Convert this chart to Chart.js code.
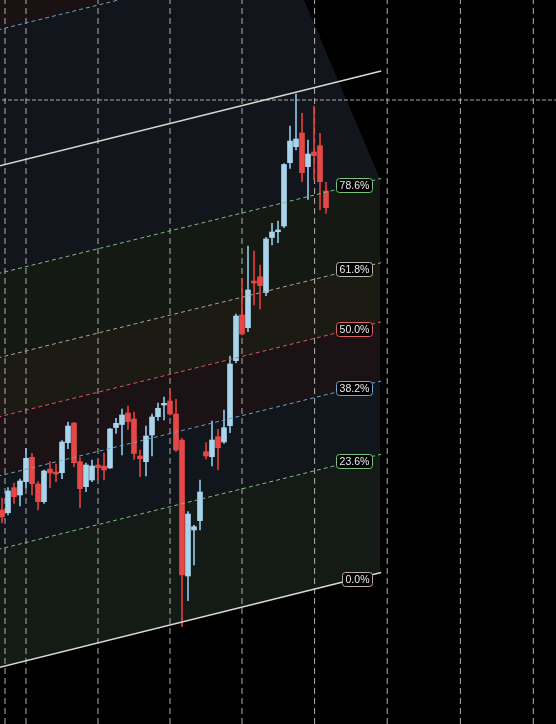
<!DOCTYPE html>
<html>
<head>
<meta charset="utf-8">
<script src="https://cdn.jsdelivr.net/npm/chart.js@4/dist/chart.umd.min.js"></script>
<style>
html,body{margin:0;padding:0;background:#000;}
#wrap{width:556px;height:724px;position:relative;}
</style>
</head>
<body>
<div id="wrap"><canvas id="c"></canvas></div>
<script>
// ---- candle data (bar index, OHLC in price units) ----
const candleX = Array.from({length: 55}, (_, k) => k);
const opens  = [214, 211.3, 236.3, 229, 242.3, 266.7, 240, 222.3, 255, 252, 251.3, 281.3, 301, 262.3, 237.3, 244, 259, 258, 256, 296.5, 299.5, 311, 305, 268, 262.3, 289, 307.3, 319, 323, 310, 284, 148, 194, 203.3, 272.3, 267.3, 287.3, 282, 298.3, 363.3, 409, 396.3, 443, 447.3, 431.5, 486.5, 492.3, 498, 561.3, 577.3, 591, 557.3, 572, 578.3, 533];
const highs  = [226, 236.3, 241, 245, 275.7, 270.7, 242.3, 254, 262.3, 260, 283.3, 302, 301.3, 266.3, 261, 264, 264.7, 271, 295.7, 305.7, 315, 318, 312, 274, 298, 310, 321, 327, 334, 324.7, 285.7, 212.3, 198.7, 244, 281.3, 303, 294.7, 314, 368, 410, 445.7, 478, 473, 459, 486.7, 500.7, 503, 560.5, 598, 630, 610.7, 584, 618, 590.7, 542];
const lows   = [201, 209, 220.7, 218, 236, 229, 214, 220.7, 236.3, 242.3, 245.3, 275.3, 257.3, 216.3, 232.3, 242.3, 244, 244, 255.7, 290.7, 269, 294.5, 264.7, 247.3, 248, 268, 303.5, 304, 309, 272.3, 97.3, 123.3, 159, 194, 265, 258, 254, 280.7, 291.3, 361, 389, 392.3, 419, 415, 428.3, 479, 481.3, 496.3, 555.5, 574, 542.3, 524.7, 544, 514, 510.7];
const closes = [207, 233, 227.3, 243, 265.7, 240.3, 222.3, 253, 251, 250, 282, 298, 261.3, 235.3, 259, 258, 256.3, 254, 295, 300.7, 309, 302.3, 270.5, 265.3, 288, 307, 315.7, 320.7, 310, 274, 149, 210, 197.3, 232, 268, 284, 276.3, 296.3, 360, 408, 390, 434, 441, 438.3, 485, 492, 494, 559.5, 583, 585, 551.3, 570, 568.3, 542.3, 516.3];

// ---- time grid ticks (bar index) ----
const gridTicks = [4, 16, 28, 40, 52.1, 64.2, 76.4, 88.55];

// ---- crosshair ----
const crossX = 0.5;
const crossY = 624;

// ---- Fibonacci channel ----
const chanBaseStart = [-3, 52.7];   // 0% line start (bar, price)
const chanBaseEnd   = [63, 151.1];  // 0% line end
const chanHeight    = 501.5;        // 0% -> 100%
const chanLineEnd   = 63.2;
const clipEdge      = [[63, 545.3], [50.33, 724]]; // slanted right edge of upper fills
const fibLevels   = [0, 0.236, 0.382, 0.5, 0.618, 0.786, 1, 1.272, 1.618];
const fibLabels   = ['0.0%', '23.6%', '38.2%', '50.0%', '61.8%', '78.6%', null, null, null];
const fibLineColors = ['#d6ddd0', '#7cbf7c', '#6f9fc2', '#dc5a5a', '#aaa894', '#7cbf7c', '#d6ddd0', '#6aa2cc', null];
const fibLabelBorders = ['#bda9a6', '#7cc47c', '#6aa8d8', '#dd6262', '#b8b8aa', '#7cc47c'];
const fibBandFills = ['#141a15', '#11151c', '#1a1214', '#1b1a13', '#141914', '#12151b', '#12161c', '#191112'];
const labelRightX = 61.67;

const slope = (chanBaseEnd[1] - chanBaseStart[1]) / (chanBaseEnd[0] - chanBaseStart[0]);
function levelAt(L, i) { return chanBaseStart[1] + (i - chanBaseStart[0]) * slope + L * chanHeight; }
function rightPoint(L) {
  if (L <= 0.786) return {x: chanBaseEnd[0], y: levelAt(L, chanBaseEnd[0])};
  const [ex0, ev0] = clipEdge[0], [ex1, ev1] = clipEdge[1];
  const k = (ex1 - ex0) / (ev1 - ev0);
  const a = chanBaseStart[1] - slope * chanBaseStart[0] + L * chanHeight;
  const v = (a + slope * ex0 - slope * k * ev0) / (1 - slope * k);
  return {x: ex0 + (v - ev0) * k, y: v};
}

const datasets = [];
// band fills
for (let n = 0; n < fibLevels.length - 1; n++) {
  const La = fibLevels[n], Lb = fibLevels[n + 1];
  const x0 = chanBaseStart[0];
  const poly = [
    {x: x0, y: levelAt(La, x0)},
    rightPoint(La),
    rightPoint(Lb),
    {x: x0, y: levelAt(Lb, x0)},
    {x: x0, y: levelAt(La, x0)}
  ];
  datasets.push({type: 'line', data: poly, fill: 'shape', backgroundColor: fibBandFills[n],
    borderWidth: 0, pointRadius: 0, tension: 0, order: 20});
}
// vertical time grid lines (drawn above the fills)
gridTicks.forEach(t => {
  datasets.push({type: 'line', data: [{x: t, y: -10}, {x: t, y: 740}], borderColor: 'rgba(205,205,205,0.85)',
    borderWidth: 1, borderDash: [6, 4], pointRadius: 0, fill: false, order: 10});
});
// crosshair
datasets.push({type: 'line', data: [{x: -1, y: crossY}, {x: 95, y: crossY}], borderColor: 'rgba(200,200,185,0.85)',
  borderWidth: 1, borderDash: [4, 2], pointRadius: 0, fill: false, order: 8});
datasets.push({type: 'line', data: [{x: crossX, y: -10}, {x: crossX, y: 740}], borderColor: 'rgba(205,205,200,0.85)',
  borderWidth: 1, borderDash: [6, 4], pointRadius: 0, fill: false, order: 8});
// wicks & bodies
const isUp = candleX.map((_, k) => closes[k] >= opens[k]);
datasets.push({type: 'bar', data: candleX.map((x, k) => ({x, y: [lows[k], highs[k]]})),
  backgroundColor: isUp.map(u => u ? '#8ec6e6' : '#e43c3c'), barThickness: 1, grouped: false, order: 4});
datasets.push({type: 'bar', data: candleX.map((x, k) => ({x, y: [opens[k], closes[k]]})),
  backgroundColor: isUp.map(u => u ? '#a8d4ec' : '#e64848'), barThickness: 5, minBarLength: 1.5, grouped: false, order: 3});
// level lines
fibLevels.forEach((L, n) => {
  if (!fibLineColors[n]) return;
  const solid = (L === 0 || L === 1);
  datasets.push({type: 'line', data: [{x: chanBaseStart[0], y: levelAt(L, chanBaseStart[0])}, {x: chanLineEnd, y: levelAt(L, chanLineEnd)}],
    borderColor: fibLineColors[n], borderWidth: solid ? 1.5 : 1, borderDash: solid ? [] : [4, 3],
    pointRadius: 0, fill: false, order: 1});
});

const fibLabelPlugin = {
  id: 'fibLabels',
  afterDatasetsDraw(chart) {
    const {ctx} = chart; const xs = chart.scales.x, ys = chart.scales.y;
    ctx.save();
    ctx.font = '10.5px "Liberation Sans", Arial, sans-serif';
    ctx.textBaseline = 'middle'; ctx.textAlign = 'center';
    fibLevels.forEach((L, n) => {
      const text = fibLabels[n]; if (!text) return;
      const w = Math.round(ctx.measureText(text).width + 6), h = 14;
      const right = Math.round(xs.getPixelForValue(labelRightX));
      const left = right - w;
      const cx = (left + right) / 2;
      const cy = ys.getPixelForValue(levelAt(L, xs.getValueForPixel(cx)));
      const top = Math.round(cy - h / 2);
      ctx.beginPath();
      if (ctx.roundRect) ctx.roundRect(left + 0.5, top + 0.5, w, h, 3); else ctx.rect(left + 0.5, top + 0.5, w, h);
      ctx.fillStyle = '#000'; ctx.fill();
      ctx.strokeStyle = fibLabelBorders[n]; ctx.lineWidth = 1; ctx.stroke();
      ctx.fillStyle = '#ececec'; ctx.fillText(text, cx + 0.5, top + h / 2 + 1);
    });
    ctx.restore();
  }
};

new Chart(document.getElementById('c'), {
  type: 'bar',
  data: {datasets},
  plugins: [fibLabelPlugin],
  options: {
    responsive: true, maintainAspectRatio: false, animation: false,
    layout: {padding: 0},
    plugins: {legend: {display: false}, tooltip: {enabled: false}},
    scales: {
      x: {type: 'linear', display: false, min: -0.333, max: 92.333, offset: false, grid: {offset: false}},
      y: {type: 'linear', display: false, min: 0, max: 724}
    }
  }
});
</script>
</body>
</html>
